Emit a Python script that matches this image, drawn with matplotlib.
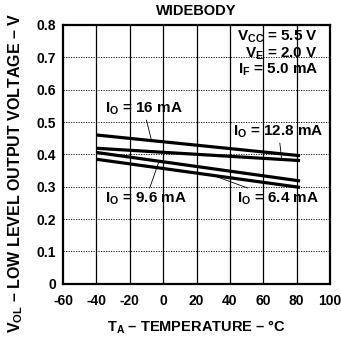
import numpy as np
import matplotlib.pyplot as plt

plt.rcParams['font.family'] = 'Liberation Sans'
plt.rcParams['font.weight'] = 'bold'
plt.rcParams['mathtext.fontset'] = 'custom'
plt.rcParams['mathtext.rm'] = 'Liberation Sans:bold'
plt.rcParams['mathtext.it'] = 'Liberation Sans:bold'
plt.rcParams['mathtext.bf'] = 'Liberation Sans:bold'
plt.rcParams['axes.unicode_minus'] = False

# temperature end points (deg C) and VOL (V) for each output current
temp = [-40, 82]
vol_16 = [0.460, 0.396]
vol_12_8 = [0.419, 0.381]
vol_9_6 = [0.406, 0.318]
vol_6_4 = [0.385, 0.298]

xticks = [-60, -40, -20, 0, 20, 40, 60, 80, 100]
yticks = [0, 0.1, 0.2, 0.3, 0.4, 0.5, 0.6, 0.7, 0.8]
ytick_labels = ['0', '0.1', '0.2', '0.3', '0.4', '0.5', '0.6', '0.7', '0.8']

fig = plt.figure(figsize=(3.41, 3.47), dpi=100)
ax = fig.add_axes([0.185, 0.182, 0.783, 0.746])

# grid: solid verticals, dotted horizontals
for x in xticks[1:-1]:
    ax.axvline(x, color='black', lw=0.9, zorder=1)
for y in yticks[1:-1]:
    ax.axhline(y, color='black', lw=0.6, ls=(0, (1.5, 1.5)), zorder=1)

for v in [vol_16, vol_12_8, vol_9_6, vol_6_4]:
    ax.plot(temp, v, color='black', lw=2.3, solid_capstyle='butt', zorder=3)

def on_line(v, t):
    return np.interp(t, temp, v)

lbl = dict(fontsize=11, fontweight='bold', color='black')
arr = dict(arrowstyle='-', lw=0.6, color='black', shrinkA=0, shrinkB=0)
ax.annotate(r'I$_\mathrm{O}$ = 16 mA', xy=(-7, on_line(vol_16, -7)), xytext=(-35, 0.54),
            arrowprops=arr, ha='left', va='center', **lbl)
ax.annotate(r'I$_\mathrm{O}$ = 12.8 mA', xy=(71, on_line(vol_12_8, 71)), xytext=(42, 0.469),
            arrowprops=arr, ha='left', va='center', **lbl)
ax.annotate(r'I$_\mathrm{O}$ = 9.6 mA', xy=(-2.5, on_line(vol_9_6, -2.5)), xytext=(-35, 0.262),
            arrowprops=arr, ha='left', va='center', **lbl)
ax.annotate(r'I$_\mathrm{O}$ = 6.4 mA', xy=(30, on_line(vol_6_4, 30)), xytext=(44, 0.262),
            arrowprops=arr, ha='left', va='center', **lbl)

ax.text(0.955, 0.985, 'V$_\\mathrm{CC}$ = 5.5 V\nV$_\\mathrm{E}$ = 2.0 V\nI$_\\mathrm{F}$ = 5.0 mA',
        transform=ax.transAxes, ha='right', va='top', fontsize=11, fontweight='bold',
        linespacing=1.0)

ax.set_xlim(-60, 100)
ax.set_ylim(0, 0.8)
ax.set_xticks(xticks)
ax.set_yticks(yticks)
ax.set_yticklabels(ytick_labels)
ax.tick_params(length=0, labelsize=10)
ax.tick_params(axis='x', pad=7)
ax.tick_params(axis='y', pad=5)
for s in ax.spines.values():
    s.set_linewidth(1.6)

ax.set_title('WIDEBODY', fontsize=10.5, fontweight='bold', pad=7)
ax.set_xlabel('T$_\\mathrm{A}$ – TEMPERATURE – °C', fontsize=10.5, fontweight='bold')
ax.xaxis.set_label_coords(0.5, -0.135)
ax.set_ylabel('V$_\\mathrm{OL}$ – LOW LEVEL OUTPUT VOLTAGE – V', fontsize=11.5,
              fontweight='bold')
ax.yaxis.set_label_coords(-0.142, 0.43)

fig.savefig('out.png', dpi=100)
